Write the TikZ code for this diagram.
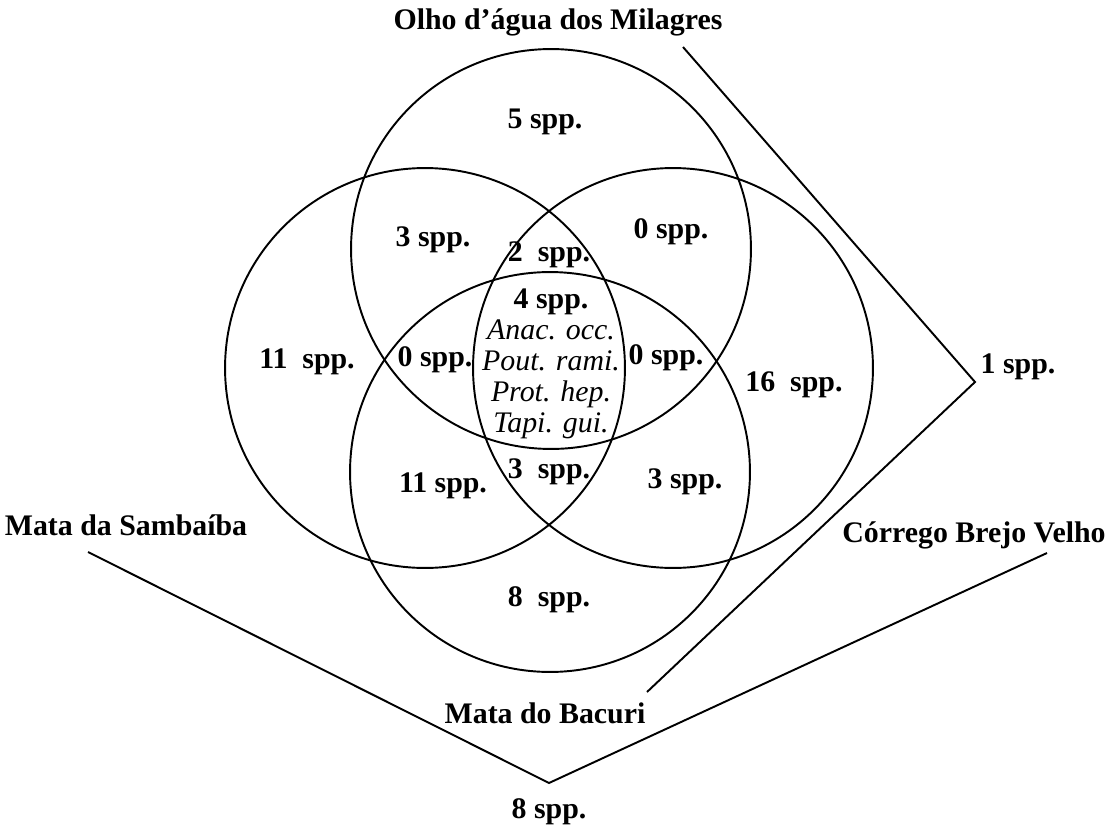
\documentclass[tikz,border=0pt]{standalone}
\usepackage{fontspec}
\setmainfont{Liberation Serif}

\begin{document}
\begin{tikzpicture}[x=0.02cm, y=-0.02cm,
  area/.style={circle, draw, line width=1.1pt, minimum size=8cm, inner sep=0pt},
  count/.style={font=\bfseries\fontsize{17}{20}\selectfont, inner sep=0pt},
  site/.style={font=\bfseries\fontsize{17}{20}\selectfont, inner sep=0pt},
  link/.style={line width=1.1pt}]

  \useasboundingbox (0,0) rectangle (1120,832);

  % The four sites as circles

  \node [area] (olho) at (551,249) {};
  \node [area] (samb) at (425,368) {};
  \node [area] (corr) at (673,368) {};
  \node [area] (bacu) at (550,472) {};

  % Site names

  \node [site] (olhoName) at (558,22) {Olho d'água dos Milagres};
  \node [site] (sambName) at (126,525) {Mata da Sambaíba};
  \node [site] (corrName) at (974,535) {Córrego Brejo Velho};
  \node [site] (bacuName) at (545,713) {Mata do Bacuri};

  % Species counts in each part of the diagram

  \node [count] (nO)   at (545,122) {5 spp.};
  \node [count] (nOS)  at (433,240) {3 spp.};
  \node [count] (nOC)  at (671,232) {0 spp.};
  \node [count] (nOSC) at (549,255) {2\ \ spp.};
  \node [count] (nS)   at (307,362) {11\ \ spp.};
  \node [count] (nOSB) at (435,360) {0 spp.};
  \node [count] (nOCB) at (666,358) {0 spp.};
  \node [count] (nC)   at (794,385) {16\ \ spp.};
  \node [count] (nSCB) at (549,472) {3\ \ spp.};
  \node [count] (nSB)  at (443,486) {11 spp.};
  \node [count] (nCB)  at (685,482) {3 spp.};
  \node [count] (nB)   at (549,600) {8\ \ spp.};
  \node [count] (nOB)  at (1018,367) {1 spp.};
  \node [count] (nSC)  at (549,812) {8 spp.};

  % Species shared by all four sites

  \node [align=center, inner sep=0pt, font=\fontsize{17}{17.6}\selectfont] (all) at (551,364)
    {\textbf{4 spp.}\\ \textit{Anac. occ.}\\ \textit{Pout. rami.}\\
     \textit{Prot. hep.}\\ \textit{Tapi. gui.}};

  % Connectors between sites that do not touch

  \coordinate (olhoEnd) at (683,47);
  \coordinate (bacuEnd) at (647,692);
  \coordinate (sambEnd) at (88,552);
  \coordinate (corrEnd) at (1047,553);
  \coordinate (tipOB) at (975,382);
  \coordinate (tipSC) at (549,783);

  \draw [link] (olhoEnd) -- (tipOB) -- (bacuEnd);
  \draw [link] (sambEnd) -- (tipSC) -- (corrEnd);
\end{tikzpicture}
\end{document}
